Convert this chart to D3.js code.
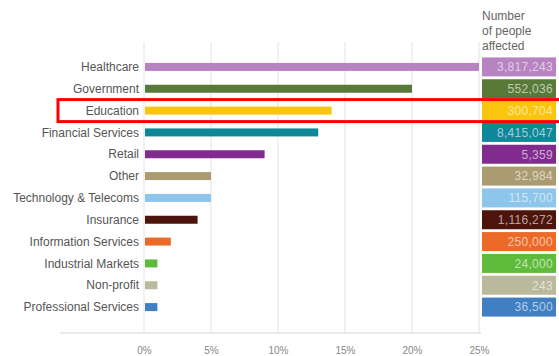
<!DOCTYPE html>
<html>
<head>
<meta charset="utf-8">
<script src="https://cdn.jsdelivr.net/npm/d3@7"></script>
<style>
  body { margin: 0; background: #fff; }
  svg { display: block; font-family: "Liberation Sans", Arial, sans-serif; }
</style>
</head>
<body>
<div id="chart"></div>
<script>
const categories = ["Healthcare", "Government", "Education", "Financial Services", "Retail", "Other",
  "Technology & Telecoms", "Insurance", "Information Services", "Industrial Markets", "Non-profit",
  "Professional Services"];
const shares = [25, 20, 14, 13, 9, 5, 5, 4, 2, 1, 1, 1];
const affected = ["3,817,243", "552,036", "300,704", "8,415,047", "5,359", "32,984", "115,700",
  "1,116,272", "250,000", "24,000", "243", "36,500"];
const colors = ["#b783c0", "#587a38", "#fac50d", "#0e8799", "#822b8e", "#aa9b70", "#8ec5ea",
  "#4d140b", "#ec6a28", "#5fbb3c", "#bab99c", "#3f7fc2"];
const xTicks = [0, 5, 10, 15, 20, 25];
const highlighted = "Education";

const W = 559, H = 356;
const svg = d3.select("#chart").append("svg")
  .attr("width", W).attr("height", H);

const x = d3.scaleLinear().domain([0, 25]).range([144, 479]);
const y = d3.scaleBand().domain(categories).range([56, 318]).paddingInner(0);

const axisY = 333;

// grid lines
svg.append("g")
  .selectAll("line")
  .data(xTicks)
  .join("line")
  .attr("x1", d => x(d)).attr("x2", d => x(d))
  .attr("y1", 42).attr("y2", axisY)
  .attr("stroke", "#e3e3e3")
  .attr("stroke-width", 1);

// bottom axis
const xAxis = svg.append("g")
  .attr("transform", `translate(0,${axisY})`)
  .call(d3.axisBottom(x).tickValues(xTicks).tickFormat(d => d + "%").tickSize(0).tickPadding(14));
xAxis.select(".domain").remove();
xAxis.selectAll("text")
  .attr("fill", "#888")
  .style("font-size", "10px");
svg.append("line")
  .attr("x1", 60).attr("x2", 481)
  .attr("y1", axisY).attr("y2", axisY)
  .attr("stroke", "#d6d6d6");

// category labels
svg.append("g")
  .selectAll("text")
  .data(categories)
  .join("text")
  .attr("x", 139)
  .attr("y", d => y(d) + y.bandwidth() / 2)
  .attr("dy", "0.35em")
  .attr("text-anchor", "end")
  .attr("fill", "#555")
  .style("font-size", "12px")
  .text(d => d);

// bars
const barH = 8;
svg.append("g")
  .selectAll("rect")
  .data(categories)
  .join("rect")
  .attr("x", x(0) + 1)
  .attr("y", d => y(d) + y.bandwidth() / 2 - barH / 2)
  .attr("width", (d, i) => x(shares[i]) - x(0) - 1)
  .attr("height", barH)
  .attr("fill", (d, i) => colors[i]);

// affected boxes
const boxH = 19;
const boxes = svg.append("g");
boxes.selectAll("rect")
  .data(categories)
  .join("rect")
  .attr("x", 482)
  .attr("y", d => y(d) + y.bandwidth() / 2 - boxH / 2)
  .attr("width", 74)
  .attr("height", boxH)
  .attr("fill", (d, i) => colors[i]);
boxes.selectAll("text")
  .data(categories)
  .join("text")
  .attr("x", 553)
  .attr("y", d => y(d) + y.bandwidth() / 2)
  .attr("dy", "0.36em")
  .attr("text-anchor", "end")
  .attr("fill", "#fff")
  .attr("fill-opacity", 0.62)
  .style("font-size", "12px")
  .style("letter-spacing", "0.3px")
  .text((d, i) => affected[i]);

// header
svg.append("text")
  .attr("x", 482).attr("y", 20)
  .attr("fill", "#666")
  .style("font-size", "12px")
  .selectAll("tspan")
  .data(["Number", "of people", "affected"])
  .join("tspan")
  .attr("x", 482)
  .attr("dy", (d, i) => i === 0 ? 0 : 15)
  .text(d => d);

// highlight box
svg.append("rect")
  .attr("x", 58)
  .attr("y", y(highlighted) + y.bandwidth() / 2 - 11)
  .attr("width", 520)
  .attr("height", 22)
  .attr("fill", "none")
  .attr("stroke", "#f00")
  .attr("stroke-width", 3);
</script>
</body>
</html>
